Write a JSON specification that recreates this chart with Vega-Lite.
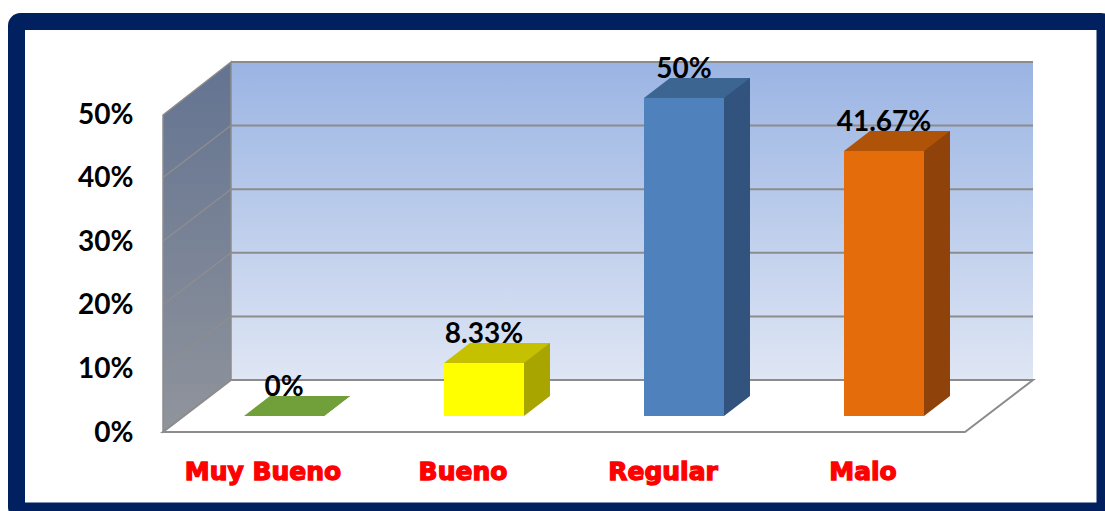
{
  "$schema": "https://vega.github.io/schema/vega-lite/v6.json",
  "width": 1088.5,
  "height": 489.5,
  "autosize": {"type": "none"},
  "padding": {"left": 16.5, "top": 21.5, "right": 0, "bottom": 0},
  "background": "#ffffff",
  "config": {
    "view": {"fill": "#ffffff", "stroke": "#002060", "strokeWidth": 17, "cornerRadius": 4},
    "axisX": {"disable": true},
    "axisY": {"offset": -120.5, "labelOffset": 17, "format": ".0%", "tickCount": 5, "labelFont": "Lato", "labelFontSize": 28, "labelFontWeight": "bold", "labelColor": "#000000", "domain": false, "ticks": false, "tickSize": 0, "labelPadding": 4, "grid": false, "zindex": 1}
  },
  "datasets": {
    "bars": [
      {"cat": "Muy Bueno", "share": 0},
      {"cat": "Bueno", "share": 0.0833},
      {"cat": "Regular", "share": 0.5},
      {"cat": "Malo", "share": 0.4167}
    ],
    "grid": [{"g": 0}, {"g": 0.1}, {"g": 0.2}, {"g": 0.3}, {"g": 0.4}, {"g": 0.5}],
    "sidegrid": [{"g": 0.1}, {"g": 0.2}, {"g": 0.3}, {"g": 0.4}]
  },
  "resolve": {"scale": {"color": "independent", "fill": "independent"}},
  "layer": [
    {
      "data": {"values": [{}]},
      "mark": {"type": "point", "shape": "M-53,-354L749,-354L749,-36L-53,-36Z", "size": 4, "filled": true, "opacity": 1, "strokeWidth": 0,
        "fill": {"gradient": "linear", "x1": 0, "y1": 0, "x2": 0, "y2": 1, "stops": [{"offset": 0, "color": "#9AB4E3"}, {"offset": 1, "color": "#DFE6F4"}]}},
      "encoding": {
        "x": {"datum": "Muy Bueno", "type": "nominal", "title": null,
          "scale": {"type": "band", "domain": ["Muy Bueno", "Bueno", "Regular", "Malo"], "range": [227.5, 907.5], "paddingInner": 0.6, "paddingOuter": 0}},
        "y": {"datum": 0, "type": "quantitative", "title": null,
          "scale": {"domain": [0, 0.5], "range": [394.5, 76.5], "nice": false, "zero": false}}
      }
    },
    {
      "data": {"values": [{}]},
      "mark": {"type": "point", "shape": "M-121,-301L-53,-354L-53,-36L-121,16Z", "size": 4, "filled": true, "opacity": 1, "stroke": "#8C8C8C", "strokeWidth": 1.5,
        "fill": {"gradient": "linear", "x1": 0, "y1": 0, "x2": 0, "y2": 1, "stops": [{"offset": 0, "color": "#637391"}, {"offset": 1, "color": "#90949C"}]}},
      "encoding": {
        "x": {"datum": "Muy Bueno", "type": "nominal", "title": null},
        "y": {"datum": 0, "type": "quantitative", "title": null}
      }
    },
    {
      "data": {"name": "grid"},
      "mark": {"type": "rule", "color": "#8C8C8C", "strokeWidth": 2, "xOffset": -53, "x2Offset": 149, "yOffset": -36},
      "encoding": {
        "x": {"datum": "Muy Bueno", "type": "nominal", "title": null},
        "x2": {"datum": "Malo"},
        "y": {"field": "g", "type": "quantitative", "title": null}
      }
    },
    {
      "data": {"name": "sidegrid"},
      "mark": {"type": "rule", "color": "#8E8E8E", "strokeWidth": 1.3, "xOffset": -121, "x2Offset": -53, "yOffset": 16, "y2Offset": -36},
      "encoding": {
        "x": {"datum": "Muy Bueno", "type": "nominal", "title": null},
        "x2": {"datum": "Muy Bueno"},
        "y": {"field": "g", "type": "quantitative", "title": null},
        "y2": {"field": "g"}
      }
    },
    {
      "data": {"values": [{}]},
      "mark": {"type": "point", "shape": "M-121,16L-53,-36L749,-36L681,16Z", "size": 4, "filled": true, "opacity": 1, "fill": "#ffffff", "stroke": "#8C8C8C", "strokeWidth": 2},
      "encoding": {
        "x": {"datum": "Muy Bueno", "type": "nominal", "title": null},
        "y": {"datum": 0, "type": "quantitative", "title": null}
      }
    },
    {
      "data": {"name": "bars"},
      "mark": {"type": "bar", "width": 26, "xOffset": 53, "yOffset": -20},
      "encoding": {
        "x": {"field": "cat", "type": "nominal", "title": null},
        "y": {"field": "share", "type": "quantitative", "title": null},
        "y2": {"datum": 0},
        "color": {"field": "cat", "type": "nominal", "legend": null,
          "scale": {"domain": ["Muy Bueno", "Bueno", "Regular", "Malo"], "range": ["#5A8230", "#A8A400", "#31537D", "#8F430A"]}}
      }
    },
    {
      "data": {"name": "bars"},
      "mark": {"type": "point", "shape": "M40,0L66,0L66,-20Z", "size": 4, "filled": true, "opacity": 1, "fill": "#ffffff", "strokeWidth": 0},
      "encoding": {
        "x": {"field": "cat", "type": "nominal", "title": null},
        "y": {"datum": 0, "type": "quantitative", "title": null}
      }
    },
    {
      "data": {"name": "bars"},
      "mark": {"type": "bar"},
      "encoding": {
        "x": {"field": "cat", "type": "nominal", "title": null},
        "y": {"field": "share", "type": "quantitative", "title": null},
        "y2": {"datum": 0},
        "color": {"field": "cat", "type": "nominal", "legend": null,
          "scale": {"domain": ["Muy Bueno", "Bueno", "Regular", "Malo"], "range": ["#71A03B", "#FFFF00", "#4F81BD", "#E46C0A"]}}
      }
    },
    {
      "data": {"name": "bars"},
      "mark": {"type": "point", "shape": "M-40,0L-14,-20L66,-20L40,0Z", "size": 4, "filled": true, "opacity": 1, "strokeWidth": 0},
      "encoding": {
        "x": {"field": "cat", "type": "nominal", "title": null},
        "y": {"field": "share", "type": "quantitative", "title": null},
        "fill": {"field": "cat", "type": "nominal", "legend": null,
          "scale": {"domain": ["Muy Bueno", "Bueno", "Regular", "Malo"], "range": ["#71A03B", "#C6C100", "#3C6592", "#AF5309"]}}
      }
    },
    {
      "data": {"name": "bars"},
      "mark": {"type": "text", "font": "Lato", "fontSize": 28, "fontWeight": "bold", "color": "#000000", "baseline": "alphabetic", "align": "center", "dy": -20},
      "encoding": {
        "x": {"field": "cat", "type": "nominal", "title": null},
        "y": {"field": "share", "type": "quantitative", "title": null},
        "text": {"field": "share", "type": "quantitative", "format": ".2~%"}
      }
    },
    {
      "data": {"name": "bars"},
      "mark": {"type": "text", "font": "DejaVu Sans", "fontSize": 25, "fontWeight": "bold", "fill": "#FF0000", "stroke": "#FF0000", "strokeWidth": 1.3, "baseline": "alphabetic", "align": "center", "dx": -21, "dy": 64},
      "encoding": {
        "x": {"field": "cat", "type": "nominal", "title": null},
        "y": {"datum": 0, "type": "quantitative", "title": null},
        "text": {"field": "cat", "type": "nominal"}
      }
    }
  ]
}
